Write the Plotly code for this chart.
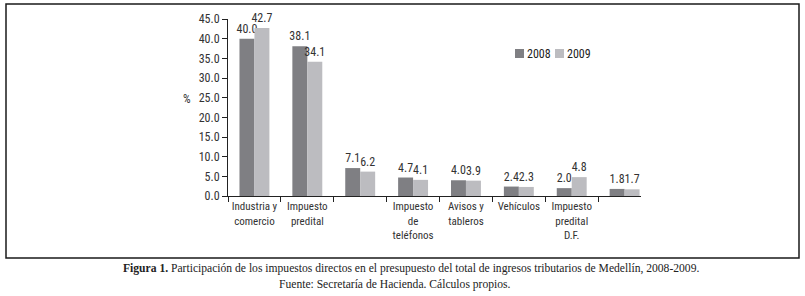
import plotly.graph_objects as go

categories = ["Industria y<br>comercio", "Impuesto<br>predital", " ",
              "Impuesto<br>de<br>teléfonos", "Avisos y<br>tableros", "Vehículos",
              "Impuesto<br>predital<br>D.F.", "  "]
values_2008 = [40.0, 38.1, 7.1, 4.7, 4.0, 2.4, 2.0, 1.8]
values_2009 = [42.7, 34.1, 6.2, 4.1, 3.9, 2.3, 4.8, 1.7]
series_names = ["2008", "2009"]
series_colors = ["#7f7f83", "#bcbcc0"]
ytick_vals = [0, 5, 10, 15, 20, 25, 30, 35, 40, 45]

W, H = 805, 296
L, R, T, B = 228, 641, 19, 196  # plot area in px

def px_x(p):
    return (p - L) / (R - L)

def px_y(p):
    return (B - p) / (B - T)

FONT = "Liberation Sans Narrow, Arial Narrow, Roboto Condensed, sans-serif"
SERIF = "Liberation Serif, Times New Roman, serif"

fig = go.Figure()
for name, vals, col in zip(series_names, [values_2008, values_2009], series_colors):
    fig.add_trace(go.Bar(
        x=categories, y=vals, name=name,
        marker=dict(color=col, line=dict(width=0)),
        text=[f"{v:.1f}" for v in vals], textposition="outside",
        textfont=dict(family=FONT, size=12, color="#333333"),
        constraintext="none", cliponaxis=False, showlegend=False,
    ))

fig.update_layout(
    template="none",
    width=W, height=H,
    margin=dict(l=L, r=W - R, t=T, b=H - B, pad=0, autoexpand=False),
    paper_bgcolor="white", plot_bgcolor="white",
    barmode="group", bargap=0.434, bargroupgap=0,
    font=dict(family=FONT, size=12, color="#333333"),
    showlegend=False,
    xaxis=dict(type="category", range=[-0.5, 7.31], showline=True, linecolor="#222222",
               linewidth=1, ticks="outside", tickson="boundaries", ticklen=5,
               tickcolor="#222222", showgrid=False, zeroline=False, tickangle=0,
               automargin=False,
               tickfont=dict(family=FONT, size=11, color="#333333")),
    yaxis=dict(range=[0, 45], tickvals=ytick_vals, tickformat=".1f", showline=True,
               linecolor="#222222", linewidth=1, ticks="outside", ticklen=5,
               tickcolor="#222222", showgrid=False, zeroline=False, automargin=False,
               tickfont=dict(family=FONT, size=12, color="#333333")),
)

# legend (drawn as keys + labels)
leg_x = [515, 555]
for name, col, lx in zip(series_names, series_colors, leg_x):
    fig.add_shape(type="rect", xref="paper", yref="paper",
                  x0=px_x(lx), x1=px_x(lx + 9), y0=px_y(58), y1=px_y(49),
                  line=dict(width=0), fillcolor=col)
    fig.add_annotation(text=name, xref="paper", yref="paper", x=px_x(lx + 10), y=px_y(53.5),
                       xanchor="left", yanchor="middle", showarrow=False,
                       font=dict(family=FONT, size=12, color="#222222"))

# frame around chart
fig.add_shape(type="rect", xref="paper", yref="paper",
              x0=px_x(6), x1=px_x(799), y0=px_y(258), y1=px_y(4),
              line=dict(color="#1a1a1a", width=1.5), fillcolor="rgba(0,0,0,0)", layer="above")

fig.add_annotation(text="%", xref="paper", yref="paper", x=px_x(181), y=px_y(99),
                   showarrow=False, font=dict(family=FONT, size=12, color="#333333"))

fig.add_annotation(
    text="<b>Figura 1.</b> Participación de los impuestos directos en el presupuesto del total de ingresos tributarios de Medellín, 2008-2009.",
    xref="paper", yref="paper", x=px_x(411), y=px_y(268), xanchor="center", yanchor="middle",
    showarrow=False, font=dict(family=SERIF, size=11.6, color="#222222"))
fig.add_annotation(
    text="Fuente: Secretaría de Hacienda. Cálculos propios.",
    xref="paper", yref="paper", x=px_x(395), y=px_y(284), xanchor="center", yanchor="middle",
    showarrow=False, font=dict(family=SERIF, size=11.6, color="#222222"))

fig.write_html("out.html", config={"displayModeBar": False},
               post_script="document.body.style.margin='0';document.body.style.padding='0';")
